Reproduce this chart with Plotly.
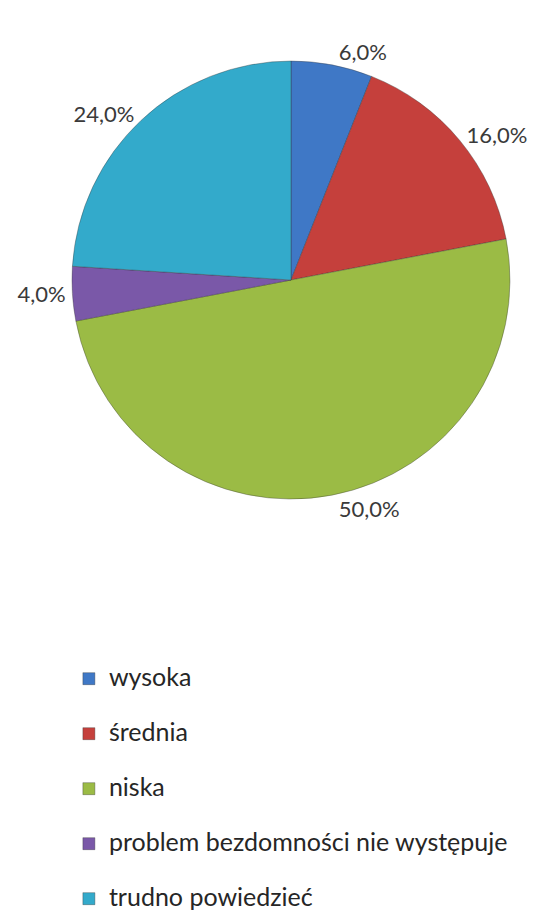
import plotly.graph_objects as go

categories = ["wysoka", "średnia", "niska", "problem bezdomności nie występuje", "trudno powiedzieć"]
values = [6.0, 16.0, 50.0, 4.0, 24.0]
colors = ["#3F78C6", "#C5403C", "#9BBB45", "#7A58A8", "#33AACB"]

text_labels = [f"{v:.1f}%".replace(".", ",") for v in values]
legend_labels = ["<span style='font-size:25px'>" + c + "</span><br> " for c in categories]

fig = go.Figure(go.Pie(
    labels=legend_labels,
    values=values,
    text=text_labels,
    texttemplate="%{text}",
    textposition="outside",
    textfont=dict(size=22, color="#3a3a3a", family="Lato"),
    sort=False,
    direction="clockwise",
    rotation=0,
    marker=dict(colors=colors, line=dict(color="rgba(50,50,50,0.45)", width=0.8)),
    domain=dict(x=[0.1172, 0.9194], y=[0.461, 0.9418]),
    hoverinfo="skip",
))

fig.update_layout(
    width=546, height=911,
    margin=dict(l=0, r=0, t=0, b=0, autoexpand=False),
    paper_bgcolor="white",
    showlegend=True,
    legend=dict(
        x=0.1115, xanchor="left",
        y=0.2852, yanchor="top",
        orientation="v",
        valign="top",
        font=dict(size=20, color="#262626", family="Lato"),
        itemwidth=30,
    ),
)

fig.write_html("out.html")
